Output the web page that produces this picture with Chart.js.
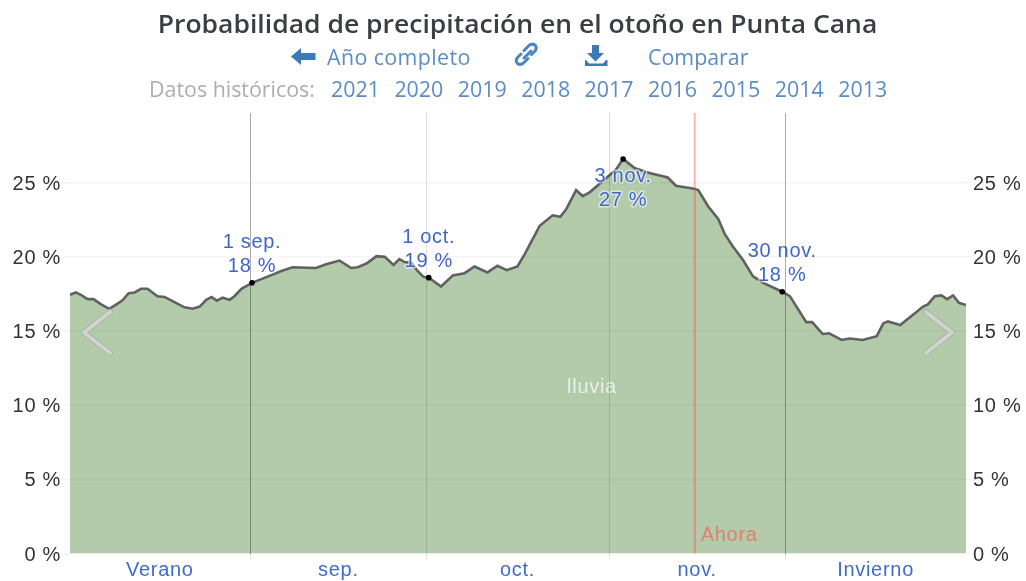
<!DOCTYPE html>
<html lang="es">
<head>
<meta charset="utf-8">
<title>Probabilidad de precipitación en el otoño en Punta Cana</title>
<script src="https://cdn.jsdelivr.net/npm/chart.js@4"></script>
<style>
html,body{margin:0;padding:0;background:#fff;overflow:hidden}
#wrap{position:relative;width:1026px;height:581px;filter:blur(.45px)}
canvas{position:absolute;left:0;top:0}
.t{position:absolute;white-space:nowrap;font-family:"Open Sans",sans-serif;line-height:1}
#title{left:0;width:1035px;text-align:center;top:11px;font-size:25px;font-weight:600;color:#3a3d42;transform:scaleX(1.06)}
.l{color:#5b8cc6;font-size:21.400px}
.y{top:78px}
svg.o{position:absolute;left:0;top:0;pointer-events:none}
</style>
</head>
<body>
<div id="wrap">
<canvas id="c" width="1026" height="581"></canvas>
<div class="t" id="title">Probabilidad de precipitación en el otoño en Punta Cana</div>
<div class="t l" style="left:327px;top:46px;letter-spacing:.4px">Año completo</div>
<div class="t l" style="left:648px;top:46px">Comparar</div>
<div class="t l" id="hist" style="left:149px;top:78px;color:#adadad">Datos históricos:</div>
<div id="years"></div>
<svg class="o" width="1026" height="581" aria-hidden="true">
  <path d="M291 56.500l10-8.500v5h14.500v7h-14.500v5z" fill="#3a7ab8"/>
  <g fill="none" stroke="#4a86c5" stroke-width="3" stroke-linecap="round">
    <path d="M524 50.500l5-5q3-2.500 6-.5q2.500 3 0 6l-3.500 3.500"/>
    <path d="M528 58.500l-4.500 4.500q-3 2.500-6 .5q-2.500-3 0-6l3.500-3.500"/>
    <path d="M524 58l7-7"/>
  </g>
  <path d="M592 45h7v8h5l-8.500 8.500l-8.500-8.500h5z M586 60l3 3.500h14l3-3.500h1.500v6h-22.500v-6z" fill="#3a7ab8"/>
  <g fill="none" stroke-linecap="round" stroke-linejoin="round">
    <path d="M110 312L84 332.500L110 353" stroke="#aab4a6" stroke-width="6"/>
    <path d="M110 312L84 332.500L110 353" stroke="#ced5cb" stroke-width="4"/>
    <path d="M926 312L952 332.500L926 353" stroke="#aab4a6" stroke-width="6"/>
    <path d="M926 312L952 332.500L926 353" stroke="#ced5cb" stroke-width="4"/>
  </g>
</svg>
</div>
<script>
// Values
const days = [0,1,2,3,4,5.3,6.7,7.9,8.9,10,11,12.1,13.2,14.9,16.1,17.8,19.5,20.9,22.1,23.2,24.1,25,26,27.2,28,29.2,31,34.5,36,37.9,41.9,43.6,45.9,47.9,49,50.5,52.2,53.6,55.1,56.1,57,58.1,59.2,60.2,61.1,63.2,65.2,67.2,68.9,71.1,72.8,74.4,76.2,77.4,78.6,80,82.2,83.5,84.5,86.2,87.3,88.5,91.6,93,94.2,96.1,98.7,101.8,103.2,106.3,107,108.7,110.4,111.5,112.9,114.6,116.3,117.8,121.3,122.6,125.4,126.4,128.2,129.3,131.4,132.8,135,137.4,138.5,139.3,141.4,145.3,146.1,147.3,148.4,149.4,150.4,151.4,152.6];
const rain = [17.45,17.6,17.4,17.15,17.15,16.8,16.5,16.8,17.05,17.55,17.6,17.85,17.85,17.35,17.3,16.95,16.6,16.5,16.65,17.1,17.3,17.05,17.25,17.1,17.35,17.85,18.25,18.8,19.05,19.3,19.25,19.5,19.75,19.25,19.3,19.55,20.05,20.0,19.45,19.85,19.65,19.6,19.05,18.65,18.6,18.0,18.75,18.9,19.35,18.95,19.4,19.1,19.35,20.15,21.05,22.1,22.8,22.7,23.2,24.5,24.1,24.35,25.4,25.9,26.6,26.0,25.65,25.35,24.8,24.6,24.5,23.4,22.55,21.55,20.7,19.8,18.7,18.3,17.65,17.35,15.6,15.6,14.8,14.85,14.4,14.5,14.4,14.65,15.5,15.65,15.4,16.65,16.8,17.35,17.4,17.15,17.4,16.9,16.75];
const monthDays = [30.7,60.7,91.8,121.8];
const monthStrong = [true,false,false,true];
const periodNames = ["Verano","sep.","oct.","nov.","Invierno"];
const periodDays = [15.3,45.7,76.2,106.8,137.2];
const markDays = [31,61.1,94.2,121.3];
const markValues = [18.25,18.6,26.6,17.65];
const markDates = ["1 sep.","1 oct.","3 nov.","30 nov."];
const markTexts = ["18 %","19 %","27 %","18 %"];
const markBelow = [false,false,true,false];
const nowDay = 106.4;
const seriesName = "lluvia";
const seriesLabelDay = 88.9;
const seriesLabelValue = 11.2;
const years = ["2021","2020","2019","2018","2017","2016","2015","2014","2013"];
const yTicks = [0,5,10,15,20,25];

years.forEach((y,i)=>{
  const d=document.createElement('div');
  d.className='t l y';d.textContent=y;d.style.left=(331+i*63.4)+'px';
  document.getElementById('years').appendChild(d);
});

const FONT='"Liberation Sans",Arial,sans-serif';
const overlay={
  id:'overlay',
  beforeDraw(ch){ch.ctx.letterSpacing='0.7px';},
  afterDatasetsDraw(ch){
    const {ctx,scales:{x,y},chartArea:a}=ch;
    ctx.save();
    const nx=x.getPixelForValue(nowDay);
    ctx.strokeStyle='rgba(255,60,50,.38)';ctx.lineWidth=2;
    ctx.beginPath();ctx.moveTo(nx,a.top);ctx.lineTo(nx,a.bottom);ctx.stroke();
    ctx.textAlign='left';ctx.textBaseline='middle';
    ctx.font='20px '+FONT;ctx.fillStyle='#de8270';
    ctx.fillText('Ahora',nx+6,y.getPixelForValue(1.2));
    ctx.textAlign='center';
    ctx.fillStyle='#e9f0e6';
    ctx.fillText(seriesName,x.getPixelForValue(seriesLabelDay),y.getPixelForValue(seriesLabelValue));
    markDays.forEach((d,i)=>{
      const px=x.getPixelForValue(d),py=y.getPixelForValue(markValues[i]);
      const s=markBelow[i]?1:-1;
      [[markBelow[i]?17:41,markDates[i]],[markBelow[i]?41:17,markTexts[i]]].forEach(([off,txt])=>{
        const ty=py+s*off+1;
        ctx.font='20px '+FONT;
        ctx.lineJoin='round';ctx.lineWidth=3;ctx.strokeStyle='rgba(255,255,255,.55)';
        ctx.strokeText(txt,px,ty);
        ctx.fillStyle='#3f66c8';
        ctx.fillText(txt,px,ty);
      });
    });
    ctx.restore();
  }
};

new Chart(document.getElementById('c'),{
  type:'line',
  data:{datasets:[
    {label:'marcas',data:markDays.map((d,i)=>({x:d,y:markValues[i]})),showLine:false,pointRadius:2.8,pointBackgroundColor:'#000',pointBorderWidth:0,order:0},
    {label:seriesName,data:days.map((d,i)=>({x:d,y:rain[i]})),borderColor:'#5f6260',borderWidth:2.6,pointRadius:0,tension:0,fill:'origin',backgroundColor:'#b3cbab',order:1}
  ]},
  plugins:[overlay],
  options:{
    responsive:false,animation:false,devicePixelRatio:1,
    layout:{padding:{top:113,left:0,right:0,bottom:0}},
    plugins:{legend:{display:false},tooltip:{enabled:false},title:{display:false}},
    scales:{
      x:{type:'linear',min:0,max:152.6,
        afterBuildTicks(ax){ax.ticks=monthDays.concat(periodDays).map(v=>({value:v}));},
        afterFit(ax){ax.height=581-553.5;},
        border:{display:false},
        grid:{z:1,tickLength:6,
          color(c){const i=monthDays.indexOf(c.tick&&c.tick.value);return i<0?'rgba(0,0,0,0)':(monthStrong[i]?'rgba(0,0,0,.33)':'rgba(0,0,0,.13)');},
          tickColor(c){return monthDays.includes(c.tick&&c.tick.value)?'rgba(0,0,0,.1)':'rgba(0,0,0,0)';}
        },
        ticks:{autoSkip:false,maxRotation:0,padding:-1,color:'#3f6dc9',font:{family:FONT,size:20},
          callback(v){const i=periodDays.indexOf(v);return i<0?'':periodNames[i];}}
      },
      y:{position:'left',min:0,max:29.7,
        afterBuildTicks(ax){ax.ticks=yTicks.map(v=>({value:v}));},
        afterFit(ax){ax.width=70;},
        border:{display:false},
        grid:{z:1,color:'rgba(0,0,0,.04)',lineWidth:1.5,tickLength:6,tickColor:'rgba(0,0,0,.05)'},
        ticks:{color:'#333',padding:3,labelOffset:1.5,font:{family:FONT,size:20},callback:v=>v+' %'}
      },
      y2:{position:'right',display:true,min:0,max:29.7,
        afterBuildTicks(ax){ax.ticks=yTicks.map(v=>({value:v}));},
        afterFit(ax){ax.width=60;},
        border:{display:false},
        grid:{drawOnChartArea:false,tickLength:6,tickColor:'rgba(0,0,0,.05)'},
        ticks:{color:'#333',padding:1,labelOffset:1.5,font:{family:FONT,size:20},callback:v=>v+' %'}
      }
    }
  }
});
</script>
</body>
</html>
